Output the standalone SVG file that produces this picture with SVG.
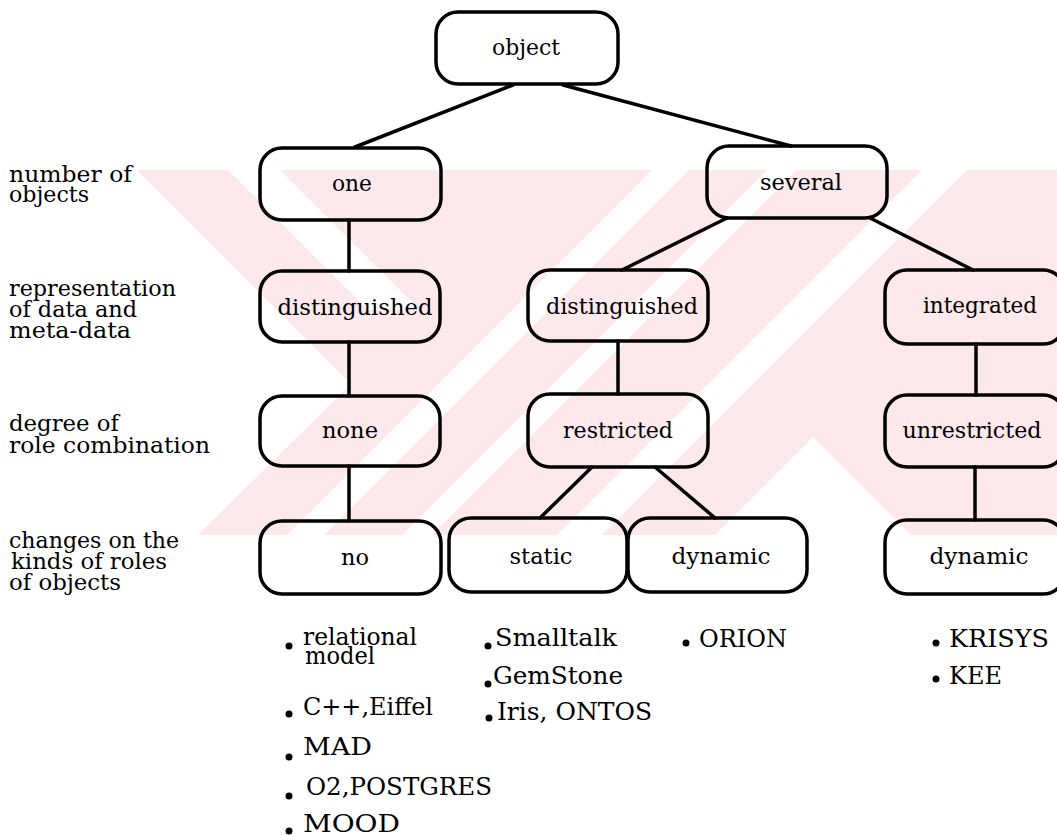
<svg xmlns="http://www.w3.org/2000/svg" width="1057" height="836" viewBox="0 0 1057 836">
  <style>
    .box { fill: none; stroke: #000; stroke-width: 3.5; }
    .edge { stroke: #000; stroke-width: 3.5; fill: none; stroke-linecap: round; }
    .lbl { font-family: "DejaVu Serif", "Liberation Serif", serif; font-size: 23px; fill: #000; text-anchor: middle; }
    .row { font-family: "DejaVu Serif", "Liberation Serif", serif; font-size: 23px; fill: #000; }
    .item { font-family: "DejaVu Serif", "Liberation Serif", serif; font-size: 25px; fill: #000; }
    .dot { fill: #000; }
    .wm { fill: #fde8ec; }
    .wmcut { fill: #fff; }
  </style>
  <defs>
    <clipPath id="wmclip">
      <rect x="135" y="170" width="922" height="365"/>
    </clipPath>
  </defs>

  <rect width="1057" height="836" fill="#fff"/>

  <!-- faint background band -->
  <g id="background-band" clip-path="url(#wmclip)">
    <rect class="wm" x="135" y="170" width="922" height="365"/>
    <polygon class="wmcut" points="135,170 137,170 351,384 198,535 135,535"/>
    <polygon class="wmcut" points="228,170 280,170 420,310 368,310"/>
    <polygon class="wmcut" points="652,170 689,170 324,535 287,535"/>
    <polygon class="wmcut" points="767,170 797,170 432,535 402,535"/>
    <polygon class="wmcut" points="922,170 967,170 602,535 557,535"/>
    <polygon class="wmcut" points="813,437 911,535 715,535"/>
  </g>

  <!-- row captions -->
  <g id="captions">
    <text class="row" x="9" y="182" textLength="123" lengthAdjust="spacingAndGlyphs">number of</text>
    <text class="row" x="9" y="202" textLength="80" lengthAdjust="spacingAndGlyphs">objects</text>
    <text class="row" x="9" y="296" textLength="167" lengthAdjust="spacingAndGlyphs">representation</text>
    <text class="row" x="9" y="317" textLength="128" lengthAdjust="spacingAndGlyphs">of data and</text>
    <text class="row" x="9" y="338" textLength="122" lengthAdjust="spacingAndGlyphs">meta-data</text>
    <text class="row" x="9" y="431" textLength="110" lengthAdjust="spacingAndGlyphs">degree of</text>
    <text class="row" x="9" y="453" textLength="201" lengthAdjust="spacingAndGlyphs">role combination</text>
    <text class="row" x="9" y="548" textLength="170" lengthAdjust="spacingAndGlyphs">changes on the</text>
    <text class="row" x="11" y="569" textLength="156" lengthAdjust="spacingAndGlyphs">kinds of roles</text>
    <text class="row" x="9" y="590" textLength="112" lengthAdjust="spacingAndGlyphs">of objects</text>
  </g>

  <!-- connectors -->
  <g id="connectors">
    <line class="edge" x1="513" y1="85" x2="355" y2="147"/>
    <line class="edge" x1="563" y1="85" x2="791" y2="146"/>
    <line class="edge" x1="349" y1="220" x2="349" y2="271"/>
    <line class="edge" x1="349" y1="342" x2="349" y2="396"/>
    <line class="edge" x1="349" y1="466" x2="349" y2="521"/>
    <line class="edge" x1="727" y1="218" x2="622" y2="270"/>
    <line class="edge" x1="870" y1="218" x2="973" y2="270"/>
    <line class="edge" x1="618" y1="341" x2="618" y2="394"/>
    <line class="edge" x1="976" y1="344" x2="976" y2="395"/>
    <line class="edge" x1="592" y1="467" x2="540" y2="518"/>
    <line class="edge" x1="655" y1="467" x2="715" y2="518"/>
    <line class="edge" x1="975" y1="467" x2="975" y2="520"/>
  </g>

  <!-- nodes -->
  <g id="n-object">
    <rect class="box" x="436" y="12" width="182" height="72" rx="22"/>
    <text class="lbl" x="526" y="55" textLength="68" lengthAdjust="spacingAndGlyphs">object</text>
  </g>
  <g id="n-one">
    <rect class="box" x="260" y="148" width="181" height="72" rx="22"/>
    <text class="lbl" x="352" y="191" textLength="40" lengthAdjust="spacingAndGlyphs">one</text>
  </g>
  <g id="n-several">
    <rect class="box" x="707" y="146" width="180" height="72" rx="22"/>
    <text class="lbl" x="801" y="190" textLength="82" lengthAdjust="spacingAndGlyphs">several</text>
  </g>
  <g id="n-distinguished-1">
    <rect class="box" x="260" y="271" width="180" height="71" rx="22"/>
    <text class="lbl" x="355" y="315" textLength="155" lengthAdjust="spacingAndGlyphs">distinguished</text>
  </g>
  <g id="n-distinguished-2">
    <rect class="box" x="528" y="270" width="180" height="71" rx="22"/>
    <text class="lbl" x="622" y="314" textLength="152" lengthAdjust="spacingAndGlyphs">distinguished</text>
  </g>
  <g id="n-integrated">
    <rect class="box" x="885" y="270" width="180" height="74" rx="22"/>
    <text class="lbl" x="980" y="313" textLength="114" lengthAdjust="spacingAndGlyphs">integrated</text>
  </g>
  <g id="n-none">
    <rect class="box" x="260" y="396" width="180" height="70" rx="22"/>
    <text class="lbl" x="350" y="438" textLength="56" lengthAdjust="spacingAndGlyphs">none</text>
  </g>
  <g id="n-restricted">
    <rect class="box" x="528" y="394" width="180" height="73" rx="22"/>
    <text class="lbl" x="618" y="438" textLength="110" lengthAdjust="spacingAndGlyphs">restricted</text>
  </g>
  <g id="n-unrestricted">
    <rect class="box" x="885" y="395" width="180" height="72" rx="22"/>
    <text class="lbl" x="972" y="438" textLength="139" lengthAdjust="spacingAndGlyphs">unrestricted</text>
  </g>
  <g id="n-no">
    <rect class="box" x="260" y="521" width="181" height="73" rx="22"/>
    <text class="lbl" x="355" y="565" textLength="28" lengthAdjust="spacingAndGlyphs">no</text>
  </g>
  <g id="n-static">
    <rect class="box" x="449" y="518" width="178" height="74" rx="22"/>
    <text class="lbl" x="541" y="564" textLength="63" lengthAdjust="spacingAndGlyphs">static</text>
  </g>
  <g id="n-dynamic-1">
    <rect class="box" x="628" y="518" width="179" height="74" rx="22"/>
    <text class="lbl" x="721" y="564" textLength="99" lengthAdjust="spacingAndGlyphs">dynamic</text>
  </g>
  <g id="n-dynamic-2">
    <rect class="box" x="885" y="520" width="180" height="74" rx="22"/>
    <text class="lbl" x="979" y="564" textLength="99" lengthAdjust="spacingAndGlyphs">dynamic</text>
  </g>

  <!-- example systems -->
  <g id="examples-no">
    <circle class="dot" cx="289" cy="646" r="3.5"/>
    <text class="item" x="303" y="645" textLength="114" lengthAdjust="spacingAndGlyphs">relational</text>
    <text class="item" x="305" y="664" textLength="70" lengthAdjust="spacingAndGlyphs">model</text>
    <circle class="dot" cx="289" cy="714" r="3.5"/>
    <text class="item" x="303" y="715" textLength="130" lengthAdjust="spacingAndGlyphs">C++,Eiffel</text>
    <circle class="dot" cx="289" cy="757" r="3.5"/>
    <text class="item" x="303" y="755" textLength="69" lengthAdjust="spacingAndGlyphs">MAD</text>
    <circle class="dot" cx="289" cy="796" r="3.5"/>
    <text class="item" x="306" y="795" textLength="186" lengthAdjust="spacingAndGlyphs">O2,POSTGRES</text>
    <circle class="dot" cx="289" cy="831" r="3.5"/>
    <text class="item" x="303" y="832" textLength="97" lengthAdjust="spacingAndGlyphs">MOOD</text>
  </g>
  <g id="examples-static">
    <circle class="dot" cx="488" cy="646" r="3.5"/>
    <text class="item" x="495" y="646" textLength="122" lengthAdjust="spacingAndGlyphs">Smalltalk</text>
    <circle class="dot" cx="488" cy="684" r="3.5"/>
    <text class="item" x="493" y="684" textLength="130" lengthAdjust="spacingAndGlyphs">GemStone</text>
    <circle class="dot" cx="489" cy="718" r="3.5"/>
    <text class="item" x="497" y="720" textLength="155" lengthAdjust="spacingAndGlyphs">Iris, ONTOS</text>
  </g>
  <g id="examples-dynamic-1">
    <circle class="dot" cx="686" cy="643" r="3.5"/>
    <text class="item" x="699" y="647" textLength="88" lengthAdjust="spacingAndGlyphs">ORION</text>
  </g>
  <g id="examples-dynamic-2">
    <circle class="dot" cx="936" cy="643" r="3.5"/>
    <text class="item" x="949" y="647" textLength="100" lengthAdjust="spacingAndGlyphs">KRISYS</text>
    <circle class="dot" cx="936" cy="679" r="3.5"/>
    <text class="item" x="949" y="684" textLength="53" lengthAdjust="spacingAndGlyphs">KEE</text>
  </g>
</svg>
